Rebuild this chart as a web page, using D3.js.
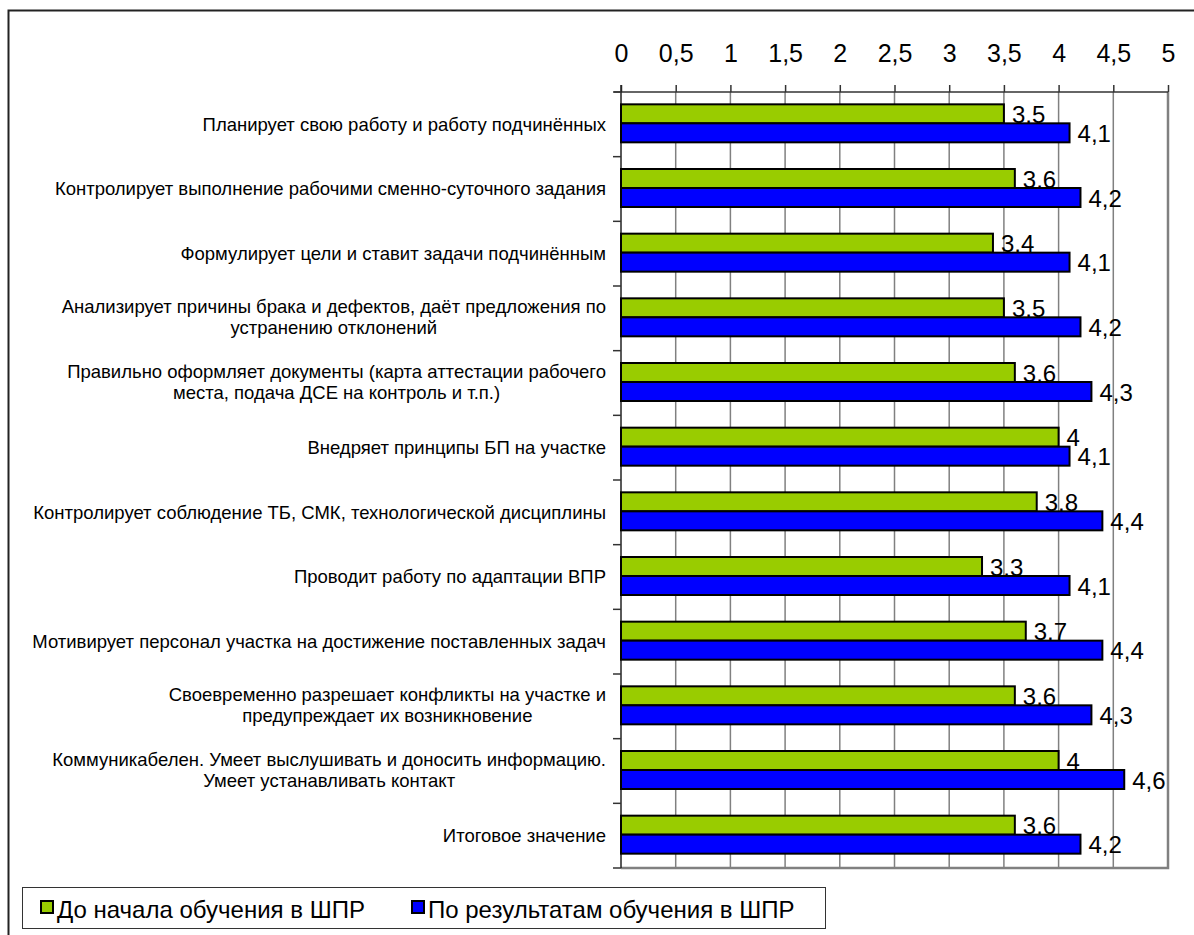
<!DOCTYPE html>
<html>
<head>
<meta charset="utf-8">
<script src="https://cdn.jsdelivr.net/npm/d3@7"></script>
<style>
  body { margin: 0; background: #fff; }
  text { font-family: "Liberation Sans", Arial, sans-serif; fill: #000; }
</style>
</head>
<body>
<div id="chart"></div>
<script>
// categories (line breaks where the label wraps)
var categories = [
  ["Планирует свою работу и работу подчинённых"],
  ["Контролирует выполнение рабочими сменно-суточного задания"],
  ["Формулирует цели и ставит задачи подчинённым"],
  ["Анализирует причины брака и дефектов, даёт предложения по", "устранению отклонений"],
  ["Правильно оформляет документы (карта аттестации рабочего", "места, подача ДСЕ на контроль и т.п.)"],
  ["Внедряет принципы БП на участке"],
  ["Контролирует соблюдение ТБ, СМК, технологической дисциплины"],
  ["Проводит работу по адаптации ВПР"],
  ["Мотивирует персонал участка на достижение поставленных задач"],
  ["Своевременно разрешает конфликты на участке и", "предупреждает их возникновение"],
  ["Коммуникабелен. Умеет выслушивать и доносить информацию.", "Умеет устанавливать контакт"],
  ["Итоговое значение"]
];
var before = [3.5, 3.6, 3.4, 3.5, 3.6, 4, 3.8, 3.3, 3.7, 3.6, 4, 3.6];
var after  = [4.1, 4.2, 4.1, 4.2, 4.3, 4.1, 4.4, 4.1, 4.4, 4.3, 4.6, 4.2];
var seriesNames = ["До начала обучения в ШПР", "По результатам обучения в ШПР"];
var ticks = [0, 0.5, 1, 1.5, 2, 2.5, 3, 3.5, 4, 4.5, 5];

var colors = ["#99cc00", "#0000ff"];
var W = 1194, H = 935;
var pLeft = 621, pRight = 1168, pTop = 92, pBottom = 868;

var svg = d3.select("#chart").append("svg")
  .attr("width", W).attr("height", H);

// outer frame, runs off the right and bottom edges
svg.append("rect")
  .attr("x", 8.5).attr("y", 10.5)
  .attr("width", 1300).attr("height", 1000)
  .attr("fill", "none").attr("stroke", "#222").attr("stroke-width", 2);

var x = d3.scaleLinear().domain([0, 5]).range([pLeft, pRight]);
var y = d3.scaleBand().domain(d3.range(categories.length)).range([pTop, pBottom]);
var inner = d3.scaleBand().domain([0, 1]).range([0, 38]);
var groupOff = (y.bandwidth() - 38) / 2 - 1;

var fmt = function(v){ return String(v).replace(".", ","); };

// grid lines
svg.append("g").selectAll("line")
  .data(ticks.slice(1))
  .enter().append("line")
  .attr("x1", function(d){ return x(d); }).attr("x2", function(d){ return x(d); })
  .attr("y1", pTop).attr("y2", pBottom)
  .attr("stroke", "#808080").attr("stroke-width", 1.5);

// plot border right and bottom
svg.append("path")
  .attr("d", "M" + pRight + "," + pTop + "V" + pBottom + "H" + pLeft)
  .attr("fill", "none").attr("stroke", "#808080").attr("stroke-width", 2.5);

// top axis
var xAxis = d3.axisTop(x).tickValues(ticks).tickSize(7).tickSizeOuter(0).tickFormat(fmt).tickPadding(23);
var gx = svg.append("g").attr("transform", "translate(0," + pTop + ")").call(xAxis);
gx.select(".domain").attr("stroke", "#333").attr("stroke-width", 1.5)
  .attr("d", "M" + (pLeft - 7) + ",0H" + pRight);
gx.selectAll(".tick line").attr("stroke", "#333").attr("stroke-width", 1.5);
gx.selectAll(".tick text").attr("font-size", 25).attr("font-family", "Liberation Sans, Arial, sans-serif");

// left axis
svg.append("line").attr("x1", pLeft).attr("x2", pLeft).attr("y1", pTop - 7).attr("y2", pBottom)
  .attr("stroke", "#222").attr("stroke-width", 1.5);
svg.append("g").selectAll("line")
  .data(d3.range(categories.length + 1))
  .enter().append("line")
  .attr("x1", pLeft - 8).attr("x2", pLeft)
  .attr("y1", function(d){ return pTop + d * y.step(); })
  .attr("y2", function(d){ return pTop + d * y.step(); })
  .attr("stroke", "#333").attr("stroke-width", 1.5);

// category labels
var labelRight = 606;
var catG = svg.append("g");
categories.forEach(function(lines, i){
  var t = catG.append("text").attr("font-size", 18.5);
  var cy = y(i) + y.bandwidth() / 2;
  var lh = 21;
  if (lines.length === 1) {
    t.attr("text-anchor", "end").attr("x", labelRight).attr("y", cy).attr("dy", "0.35em").text(lines[0]);
  } else {
    var y0 = cy - (lines.length - 1) * lh / 2 - 1;
    t.attr("text-anchor", "middle");
    var spans = lines.map(function(s, k){
      return t.append("tspan").attr("x", 0).attr("y", y0 + k * lh).attr("dy", "0.35em").text(s);
    });
    var wMax = d3.max(spans, function(sp){ return sp.node().getComputedTextLength(); });
    spans.forEach(function(sp){ sp.attr("x", labelRight - wMax / 2); });
  }
});

// bars
var series = [before, after];
series.forEach(function(vals, s){
  var g = svg.append("g");
  g.selectAll("rect")
    .data(vals)
    .enter().append("rect")
    .attr("x", x(0))
    .attr("y", function(d, i){ return y(i) + groupOff + inner(s); })
    .attr("width", function(d){ return x(d) - x(0); })
    .attr("height", inner.bandwidth())
    .attr("fill", colors[s]).attr("stroke", "#000").attr("stroke-width", 2);
  g.selectAll("text")
    .data(vals)
    .enter().append("text")
    .attr("x", function(d){ return x(d) + 8; })
    .attr("y", function(d, i){ return y(i) + groupOff + inner(s) + inner.bandwidth() - 0.5; })
    .attr("font-size", 24)
    .text(fmt);
});

// legend
var lg = svg.append("g");
lg.append("rect").attr("x", 22.5).attr("y", 887.5).attr("width", 803).attr("height", 41)
  .attr("fill", "#fff").attr("stroke", "#333").attr("stroke-width", 1);
var legX = [41, 412];
seriesNames.forEach(function(n, s){
  lg.append("rect").attr("x", legX[s]).attr("y", 901).attr("width", 12).attr("height", 12)
    .attr("fill", colors[s]).attr("stroke", "#000").attr("stroke-width", 2);
  lg.append("text").attr("x", legX[s] + 16).attr("y", 918)
    .attr("font-size", 24).text(n);
});
</script>
</body>
</html>
